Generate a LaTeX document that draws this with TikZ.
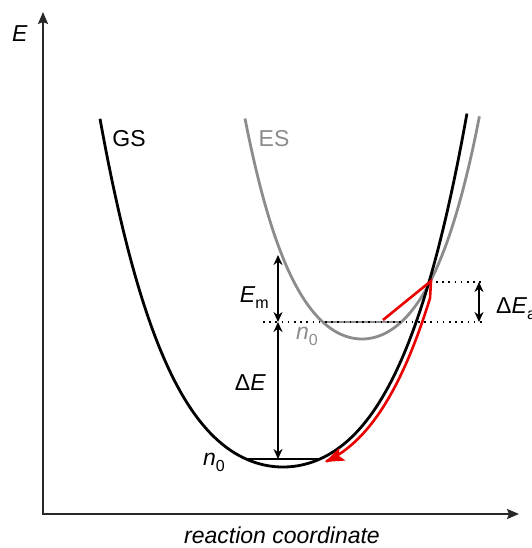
\documentclass[tikz,border=0pt]{standalone}
\usepackage{fontspec}
\setmainfont{Liberation Sans}
\usetikzlibrary{arrows.meta}
\definecolor{esgray}{RGB}{140,140,140}
\definecolor{axisgray}{RGB}{40,40,40}
\definecolor{redc}{RGB}{235,0,0}
\newcommand\mysub[1]{\raisebox{-0.28em}{\fontsize{16}{16}\selectfont #1}}
\begin{document}
\begin{tikzpicture}[x=1pt,y=-1pt,
  lab/.style={font=\fontsize{23}{26}\selectfont, inner sep=0pt},
  axisline/.style={line width=2pt, draw=axisgray, {Stealth[length=12pt,width=10pt,inset=2pt]}-{Stealth[length=12pt,width=10pt,inset=2pt]}},
  gscurve/.style={line width=2.8pt, black},
  escurve/.style={line width=2.8pt, esgray},
  levelline/.style={line width=1.5pt},
  dotline/.style={line width=1.6pt, dash pattern=on 1.6pt off 4.6pt},
  dimarrow/.style={line width=1.6pt, {Stealth[length=10pt,width=9pt]}-{Stealth[length=10pt,width=9pt]}},
  redpath/.style={line width=2.6pt, draw=redc, line join=miter, -{Stealth[length=19pt,width=14pt,inset=4pt]}}
]
\useasboundingbox (0,0) rectangle (531,548);

% axes
\coordinate (ytip) at (43,12);
\coordinate (xtip) at (519,514);
\draw[axisline] (ytip) |- (xtip);

% curves
\draw[escurve] plot[domain=-1.17:1.175, samples=120, smooth] ({362+100*\x},{339-104*\x*\x-41.7*\x*\x*\x*\x});
\draw[gscurve] plot[domain=-1.83:1.84, samples=140, smooth] ({283+100*\x},{467-56.7*\x*\x-14.12*\x*\x*\x*\x});

% vibrational levels
\coordinate (gsl) at (247,459);
\coordinate (gsr) at (319,459);
\draw[levelline, black] (gsl) -- (gsr);
\coordinate (esl) at (323,322);
\coordinate (esr) at (401,322);
\draw[levelline, esgray, line width=2pt] (esl) -- (esr);

% dotted guides
\coordinate (dl1) at (263,322);
\coordinate (dr1) at (484,322);
\coordinate (dl2) at (436,282);
\coordinate (dr2) at (484,282);
\draw[dotline] (dl1) -- (dr1);
\draw[dotline] (dl2) -- (dr2);

% dimension arrows
\coordinate (emtop) at (278,255);
\coordinate (mid) at (278,322);
\coordinate (gsn) at (278,459);
\draw[dimarrow] (mid) -- (emtop);
\draw[dimarrow] (mid) -- (gsn);
\coordinate (eatop) at (479,282);
\coordinate (eabot) at (479,322);
\draw[dimarrow] (eatop) -- (eabot);

% red relaxation path
\coordinate (rstart) at (383,320);
\coordinate (rvertex) at (431,281);
\draw[redpath] (rstart) -- (rvertex) -- plot[domain=1.42:0.37, samples=80, smooth] ({288+100*\x},{470-56.7*\x*\x-14.12*\x*\x*\x*\x});

% labels
\node[lab, anchor=base west] (lE) at (12,42) {\textit{E}};
\node[lab, anchor=base] (lGS) at (129,147) {GS};
\node[lab, anchor=base, text=esgray] (lES) at (274,147) {ES};
\node[lab, anchor=base east] (lEm) at (269,302) {\textit{E}\mysub{m}};
\node[lab, anchor=base east] (ldE) at (266,390) {Δ\textit{E}};
\node[lab, anchor=base west] (ldEa) at (496,313) {Δ\textit{E}\mysub{a}};
\node[lab, anchor=base west, text=esgray] (ln0es) at (296,339) {\textit{n}\mysub{0}};
\node[lab, anchor=base west] (ln0gs) at (203,465) {\textit{n}\mysub{0}};
\node[lab, anchor=base] (lrc) at (282,543) {\textit{reaction coordinate}};
\end{tikzpicture}
\end{document}
